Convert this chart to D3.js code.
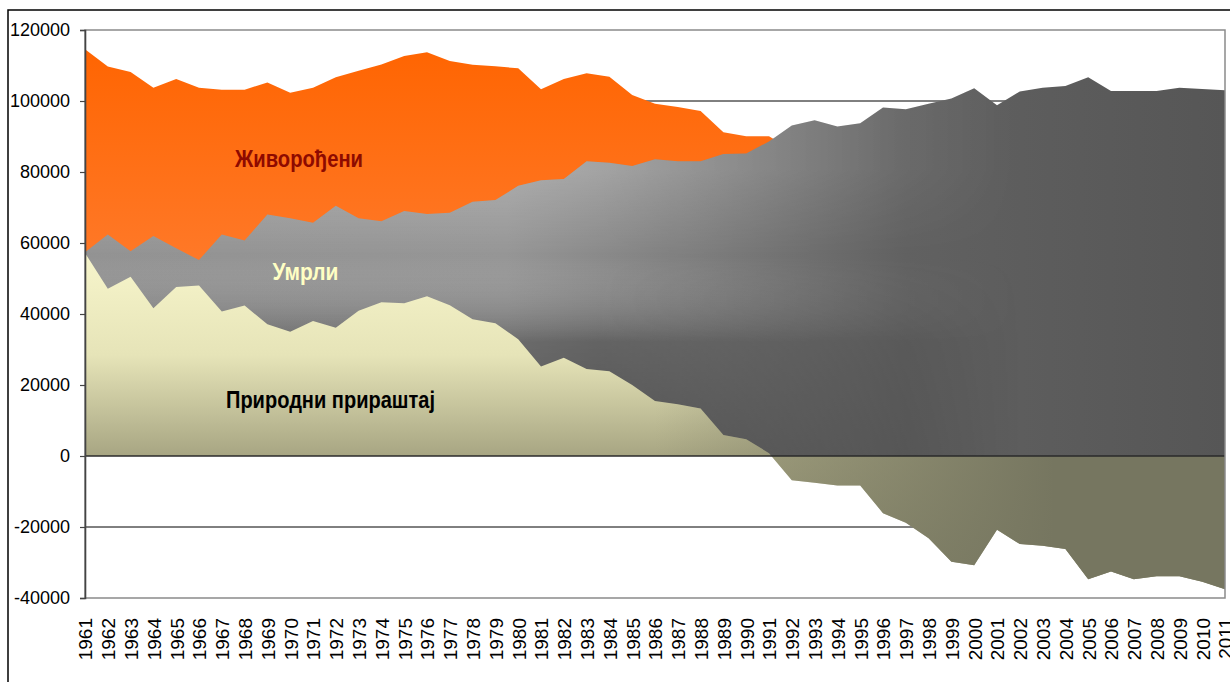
<!DOCTYPE html>
<html>
<head>
<meta charset="utf-8">
<script src="https://cdn.jsdelivr.net/npm/d3@7"></script>
<style>
  html, body { margin: 0; padding: 0; background: #fff; }
  svg { display: block; }
  .lbl { font-family: "Liberation Sans Narrow", "Arial Narrow", "Liberation Sans", Arial, sans-serif; font-weight: bold; }
  .axis text { font-family: "Liberation Sans", Arial, sans-serif; fill: #000; }
</style>
</head>
<body>
<svg id="chart" width="1230" height="682"></svg>
<script>
const years = ["1961","1962","1963","1964","1965","1966","1967","1968","1969","1970",
  "1971","1972","1973","1974","1975","1976","1977","1978","1979","1980",
  "1981","1982","1983","1984","1985","1986","1987","1988","1989","1990",
  "1991","1992","1993","1994","1995","1996","1997","1998","1999","2000",
  "2001","2002","2003","2004","2005","2006","2007","2008","2009","2010","2011"];

// Живорођени
const births = [114600,109700,108200,103700,106200,103700,103200,103200,105200,102300,
  103700,106700,108500,110300,112700,113700,111300,110200,109800,109200,
  103300,106200,107800,106800,101700,99200,98300,97200,91200,90100,
  90100,86300,87100,84500,85400,82100,78900,76000,70900,72800,
  78000,77900,78400,78000,72000,70300,68100,68900,69800,68000,65500];

// Умрли
const deaths = [57400,62400,57700,62000,58500,55200,62400,60700,68000,67000,
  65700,70500,67000,66100,69000,68200,68500,71600,72100,76100,
  77700,78000,83000,82600,81700,83600,83000,83000,85100,85200,
  88600,93100,94600,92800,93700,98200,97700,99200,100700,103600,
  98800,102700,103700,104200,106700,102800,102800,102800,103700,103400,103000];

// Природни прираштај
const natural = [57200,47100,50500,41600,47600,48000,40700,42400,37100,35000,
  38000,36100,40900,43300,43000,45000,42500,38500,37400,32900,
  25200,27700,24500,23900,20000,15500,14600,13400,5900,4700,
  800,-6800,-7500,-8300,-8300,-16100,-18800,-23200,-29800,-30800,
  -20800,-24800,-25300,-26200,-34700,-32500,-34700,-33900,-33900,-35400,-37500];

const yTicks = [-40000,-20000,0,20000,40000,60000,80000,100000,120000];
const seriesNames = ["Живорођени","Умрли","Природни прираштај"];

const svg = d3.select("#chart");
const L = 85, R = 1225, T = 30, B = 598;

const x = d3.scalePoint().domain(years).range([L, R]);
const y = d3.scaleLinear().domain([-40000, 120000]).range([B, T]);

const defs = svg.append("defs");

// Orange gradient (births)
const gO = defs.append("linearGradient").attr("id","gO")
  .attr("gradientUnits","userSpaceOnUse").attr("x1",0).attr("y1",40).attr("x2",0).attr("y2",340);
gO.append("stop").attr("offset",0).attr("stop-color","#FF6400");
gO.append("stop").attr("offset",1).attr("stop-color","#FF8036");

// Gray base (deaths), horizontal
const gG = defs.append("linearGradient").attr("id","gG")
  .attr("gradientUnits","userSpaceOnUse").attr("x1",L).attr("y1",0).attr("x2",R).attr("y2",0);
gG.append("stop").attr("offset",0).attr("stop-color","#939393");
gG.append("stop").attr("offset",0.37).attr("stop-color","#969696");
gG.append("stop").attr("offset",0.55).attr("stop-color","#7c7c7c");
gG.append("stop").attr("offset",0.72).attr("stop-color","#616161");
gG.append("stop").attr("offset",1).attr("stop-color","#565656");

// Gray vertical shading overlay
const gGv = defs.append("linearGradient").attr("id","gGv")
  .attr("gradientUnits","userSpaceOnUse").attr("x1",0).attr("y1",170).attr("x2",0).attr("y2",456);
gGv.append("stop").attr("offset",0).attr("stop-color","#fff").attr("stop-opacity",0.22);
gGv.append("stop").attr("offset",0.3).attr("stop-color","#fff").attr("stop-opacity",0.0);
gGv.append("stop").attr("offset",0.6).attr("stop-color","#000").attr("stop-opacity",0.28);
gGv.append("stop").attr("offset",1).attr("stop-color","#000").attr("stop-opacity",0.4);

const gM = defs.append("linearGradient").attr("id","gM")
  .attr("gradientUnits","userSpaceOnUse").attr("x1",L).attr("y1",0).attr("x2",R).attr("y2",0);
gM.append("stop").attr("offset",0).attr("stop-color","#fff");
gM.append("stop").attr("offset",0.45).attr("stop-color","#fff");
gM.append("stop").attr("offset",0.82).attr("stop-color","#000");
const mask = defs.append("mask").attr("id","mG").attr("maskUnits","userSpaceOnUse")
  .attr("x",0).attr("y",0).attr("width",1230).attr("height",682);
mask.append("rect").attr("x",0).attr("y",0).attr("width",1230).attr("height",682).attr("fill","url(#gM)");

// Natural increase: vertical base
const gY = defs.append("linearGradient").attr("id","gY")
  .attr("gradientUnits","userSpaceOnUse").attr("x1",0).attr("y1",250).attr("x2",0).attr("y2",600);
gY.append("stop").attr("offset",0).attr("stop-color","#F8F6CC");
gY.append("stop").attr("offset",0.3).attr("stop-color","#E6E4B8");
gY.append("stop").attr("offset",0.59).attr("stop-color","#A7A582");
gY.append("stop").attr("offset",1).attr("stop-color","#86866A");
// olive horizontal overlay
const gYh = defs.append("linearGradient").attr("id","gYh")
  .attr("gradientUnits","userSpaceOnUse").attr("x1",L).attr("y1",0).attr("x2",R).attr("y2",0);
gYh.append("stop").attr("offset",0).attr("stop-color","#767660").attr("stop-opacity",0);
gYh.append("stop").attr("offset",0.5).attr("stop-color","#767660").attr("stop-opacity",0);
gYh.append("stop").attr("offset",0.85).attr("stop-color","#767660").attr("stop-opacity",1);
gYh.append("stop").attr("offset",1).attr("stop-color","#767660").attr("stop-opacity",1);

// Outer frame
svg.append("rect").attr("x",8).attr("y",10).attr("width",1240).attr("height",700)
  .attr("fill","none").attr("stroke","#000").attr("stroke-width",1.5);

// Gridlines
svg.append("g").selectAll("line").data(yTicks.filter(v => v !== 0 && v !== 120000 && v !== -40000))
  .join("line")
  .attr("x1",L).attr("x2",R).attr("y1",d => y(d)).attr("y2",d => y(d))
  .attr("stroke","#000").attr("stroke-width",1);

const area = vals => d3.area()
  .x((d,i) => x(years[i]))
  .y0(y(0))
  .y1(d => y(d))(vals);

svg.append("path").attr("d", area(births)).attr("fill","url(#gO)");
svg.append("path").attr("d", area(deaths)).attr("fill","url(#gG)");
svg.append("path").attr("d", area(deaths)).attr("fill","url(#gGv)").attr("mask","url(#mG)");
svg.append("path").attr("d", area(natural)).attr("fill","url(#gY)");
svg.append("path").attr("d", area(natural)).attr("fill","url(#gYh)");

// Zero line
svg.append("line").attr("x1",L).attr("x2",R).attr("y1",y(0)).attr("y2",y(0))
  .attr("stroke","#2a2a2a").attr("stroke-width",1.6);

// Plot border
svg.append("rect").attr("x",L).attr("y",T).attr("width",R-L).attr("height",B-T)
  .attr("fill","none").attr("stroke","#8a8a8a").attr("stroke-width",1.5);

// Y axis
const yAxis = svg.append("g").attr("class","axis").attr("transform",`translate(${L},0)`)
  .call(d3.axisLeft(y).tickValues(yTicks).tickFormat(d => String(d)).tickSize(5).tickPadding(10));
yAxis.selectAll("text").attr("font-size","18px");
yAxis.select(".domain").attr("stroke","#444").attr("stroke-width",1.6);
yAxis.selectAll(".tick line").attr("stroke","#444").attr("stroke-width",1.2);

// X axis
const xAxis = svg.append("g").attr("class","axis").attr("transform",`translate(0,${B})`)
  .call(d3.axisBottom(x).tickSize(0).tickPadding(0));
xAxis.select(".domain").remove();
xAxis.selectAll("text")
  .attr("font-size","19px")
  .attr("transform","rotate(-90)")
  .attr("text-anchor","end")
  .attr("x",-20).attr("y",0).attr("dy","0.36em");

// Series labels
const labels = [
  {t: seriesNames[0], x: 299, y: 167, c: "#8E0A00", w: 128},
  {t: seriesNames[1], x: 305.5, y: 280, c: "#FFFFC4", w: 66},
  {t: seriesNames[2], x: 330.5, y: 408, c: "#000", w: 209}
];
svg.append("g").selectAll("text").data(labels).join("text")
  .attr("class","lbl")
  .attr("x",d => d.x).attr("y",d => d.y)
  .attr("text-anchor","middle")
  .attr("font-size","23px")
  .attr("fill",d => d.c)
  .attr("textLength",d => d.w)
  .attr("lengthAdjust","spacingAndGlyphs")
  .text(d => d.t);
</script>
</body>
</html>
